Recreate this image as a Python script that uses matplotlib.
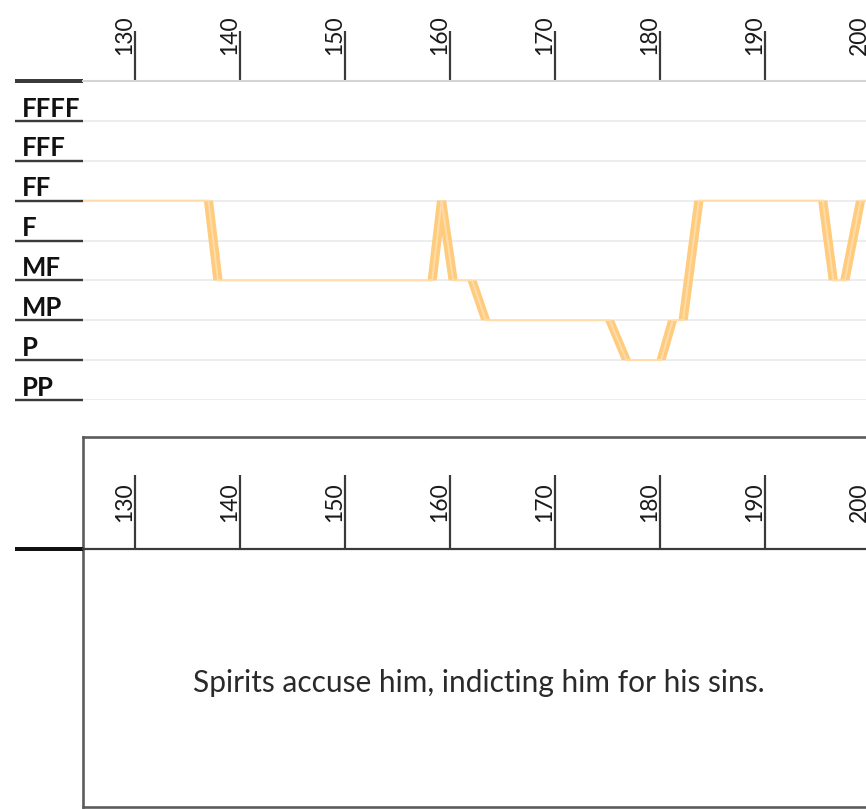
import matplotlib
matplotlib.use("Agg")
import matplotlib.pyplot as plt
from matplotlib.ticker import FixedLocator

plt.rcParams['font.family'] = ['Lato', 'DejaVu Sans']

# dynamic levels, bottom to top
levels = ["PP", "P", "MP", "MF", "F", "FF", "FFF", "FFFF"]

# dynamics line (measure position, level index on the grid)
measure = [124.0, 137.0, 137.9, 158.3, 159.2, 160.3, 162.1, 163.4, 175.2, 176.8,
           180.1, 181.2, 182.2, 183.7, 195.5, 196.5, 197.6, 199.1, 202.0]
level = [5, 5, 3, 3, 5, 3, 3, 2, 2, 1, 1, 2, 2, 5, 5, 3, 3, 5, 5]

ticks = [130, 140, 150, 160, 170, 180, 190, 200]
x_range = (125.05, 200.95)
caption = "Spirits accuse him, indicting him for his sins."

W, H = 866, 809
PT = 0.72  # px -> pt at dpi 100


def box(left, top, right, bottom):
    return [left / W, 1 - bottom / H, (right - left) / W, (bottom - top) / H]


fig = plt.figure(figsize=(W / 100, H / 100), dpi=100)

# ---------------- top panel: dynamics ----------------
ax = fig.add_axes(box(83, 81, 880, 400))
ax.set_xlim(*x_range)
ax.set_ylim(0, 8)
for s in ["left", "right", "bottom"]:
    ax.spines[s].set_visible(False)
ax.spines["top"].set_color("#d4d4d4")
ax.spines["top"].set_linewidth(1.5)

ax.xaxis.tick_top()
ax.set_xticks(ticks)
ax.set_xticklabels([str(t) for t in ticks], rotation=90, ha="right")
ax.tick_params(axis="x", direction="out", length=50 * PT, width=2.2 * PT,
               color="#3a3a3a", pad=-24 * PT, labelsize=16.5, labelcolor="#1a1a1a")

ax.set_yticks(range(0, 9))
ax.set_yticklabels([""] * 9)
ax.tick_params(axis="y", which="major", direction="out", length=68 * PT,
               width=2.4 * PT, color="#3a3a3a")
ax.yaxis.set_minor_locator(FixedLocator([k + 0.36 for k in range(8)]))
ax.set_yticklabels(levels, minor=True, fontweight="bold", ha="left")
ax.tick_params(axis="y", which="minor", length=0, pad=61 * PT,
               labelsize=18.5, labelcolor="#111111")
top_tick = ax.yaxis.get_major_ticks()[-1]
top_tick.tick1line.set_markeredgewidth(4 * PT)
top_tick.tick1line.set_color("#111111")

ax.grid(axis="y", which="major", color="#ececec", linewidth=1.3)
ax.set_axisbelow(True)

# line: thin stroke plus a horizontal "brush" on the slopes
line_col = "#ffcb7d"
ax.plot(measure, level, color="#ffdcaa", linewidth=1.4, solid_joinstyle="miter")
h = 0.44
for i in range(len(measure) - 1):
    x0, x1 = measure[i], measure[i + 1]
    y0, y1 = level[i], level[i + 1]
    if y0 == y1:
        continue
    ax.fill([x0 - h, x0 + h, x1 + h, x1 - h], [y0, y0, y1, y1],
            color=line_col, linewidth=0)

# ---------------- bottom panel: narrative ----------------
frame = fig.add_axes(box(83, 437, 880, 807))
frame.set_xticks([])
frame.set_yticks([])
for s in frame.spines.values():
    s.set_color("#5a5a5a")
    s.set_linewidth(2.6 * PT)

ax2 = fig.add_axes(box(83, 549, 880, 807))
ax2.patch.set_visible(False)
ax2.set_xlim(*x_range)
ax2.set_ylim(0, 1)
for s in ["left", "right", "bottom"]:
    ax2.spines[s].set_visible(False)
ax2.spines["top"].set_color("#3a3a3a")
ax2.spines["top"].set_linewidth(2.2 * PT)
ax2.xaxis.tick_top()
ax2.set_xticks(ticks)
ax2.set_xticklabels([str(t) for t in ticks], rotation=90, ha="right")
ax2.tick_params(axis="x", direction="out", length=74 * PT, width=2.2 * PT,
                color="#3a3a3a", pad=-47 * PT, labelsize=16.5, labelcolor="#1a1a1a")
ax2.set_yticks([1])
ax2.set_yticklabels([""])
ax2.tick_params(axis="y", direction="out", length=68 * PT, width=4 * PT,
                color="#111111")

ax2.text(162.7, 0.48, caption, ha="center", va="center",
         fontsize=21.5, color="#2a2a2a")

fig.savefig("out.png", dpi=100)
